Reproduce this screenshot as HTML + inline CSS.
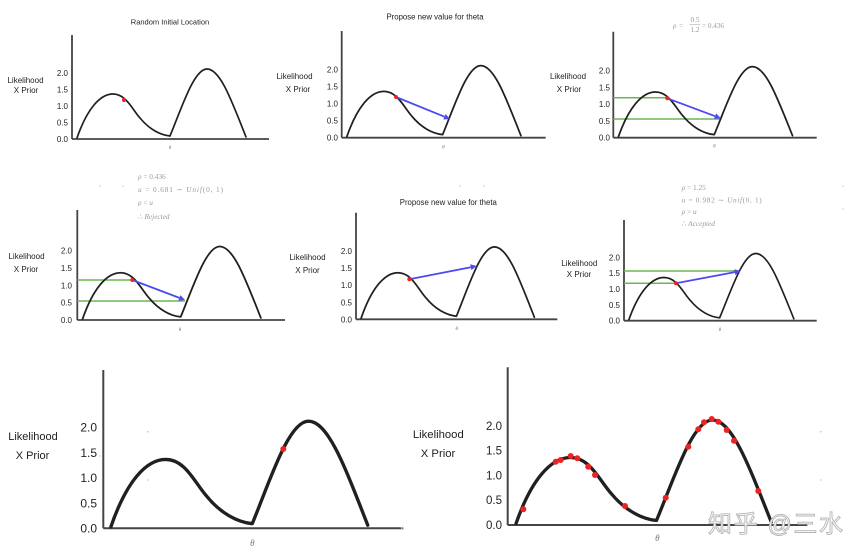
<!DOCTYPE html>
<html><head><meta charset="utf-8"><style>
html,body{margin:0;padding:0;background:#fff;}
svg{display:block;}
.c{fill:none;stroke:#202020;stroke-linejoin:round;stroke-linecap:round;}
.ax{stroke:#444;}
.t{font-family:"Liberation Sans",sans-serif;fill:#222;}
.f{font-family:"Liberation Serif",serif;fill:#999;}
.th{font-family:"Liberation Serif",serif;font-style:italic;fill:#777;}
</style></head><body>
<svg width="865" height="559" viewBox="0 0 865 559" xmlns="http://www.w3.org/2000/svg">
<defs>
<path id="cv" d="M5,-1 C15,-30 28,-45 41,-45 C54,-45 60,-30 68,-21 C77,-10 88,-4 98,-3 C110,-32 122,-70 135,-70 C148,-70 159,-40 174,-2"/>
</defs>
<rect width="865" height="559" fill="#fff"/>

<!-- ===== Panel 1 ===== -->
<text class="t" x="170" y="24.5" font-size="7.5" text-anchor="middle">Random Initial Location</text>
<g class="ax" stroke-width="1.8"><line x1="72" y1="35" x2="72" y2="139"/><line x1="72" y1="139" x2="269" y2="139"/></g>
<g transform="translate(72,139)"><use href="#cv" class="c" stroke-width="1.7"/></g>
<g class="t" font-size="8" text-anchor="end">
<text x="68" y="76">2.0</text><text x="68" y="92.5">1.5</text><text x="68" y="109">1.0</text><text x="68" y="125.5">0.5</text><text x="68" y="142">0.0</text></g>
<g class="t" font-size="8" text-anchor="middle"><text x="25.5" y="83">Likelihood</text><text x="26" y="93">X Prior</text></g>
<text class="th" x="170" y="149" font-size="5" text-anchor="middle">θ</text>
<circle cx="124" cy="100" r="2" fill="#e22"/>

<!-- ===== Panel 2 ===== -->
<text class="t" x="435" y="19.5" font-size="7.8" text-anchor="middle">Propose new value for theta</text>
<g class="ax" stroke-width="1.8"><line x1="341.7" y1="31" x2="341.7" y2="137.7"/><line x1="341.7" y1="137.7" x2="545.7" y2="137.7"/></g>
<g transform="translate(341.7,137.7) scale(1.03,1.03)"><use href="#cv" class="c" stroke-width="1.7" vector-effect="non-scaling-stroke"/></g>
<g class="t" font-size="8" text-anchor="end">
<text x="338" y="72.7">2.0</text><text x="338" y="89.7">1.5</text><text x="338" y="106.7">1.0</text><text x="338" y="123.7">0.5</text><text x="338" y="140.7">0.0</text></g>
<g class="t" font-size="8" text-anchor="middle"><text x="294.5" y="79">Likelihood</text><text x="298" y="92">X Prior</text></g>
<text class="th" x="443.3" y="148.5" font-size="5" text-anchor="middle">θ</text>
<line x1="396" y1="97" x2="444.4" y2="116.7" stroke="#4b4bf0" stroke-width="1.8"/>
<polygon points="450,119 443.3,119.5 445.6,114" fill="#4b4bf0"/>
<circle cx="396" cy="97" r="2" fill="#e22"/>

<!-- ===== Panel 3 ===== -->
<g class="f" font-size="7.2">
<text x="673" y="28" font-style="italic">ρ</text><text x="679" y="28">=</text>
<text x="690.5" y="22.2">0.5</text><line x1="689.5" y1="24.8" x2="700" y2="24.8" stroke="#999" stroke-width="0.5"/><text x="690.5" y="31.8">1.2</text>
<text x="702" y="28">= 0.436</text></g>
<g class="ax" stroke-width="1.8"><line x1="613.3" y1="31.7" x2="613.3" y2="137.7"/><line x1="613.3" y1="137.7" x2="816.7" y2="137.7"/></g>
<line x1="613.3" y1="97.7" x2="667" y2="97.7" stroke="#6db555" stroke-width="1.5"/>
<line x1="613.3" y1="119" x2="720" y2="119" stroke="#6db555" stroke-width="1.5"/>
<g transform="translate(613.3,137.7) scale(1.03,1.015)"><use href="#cv" class="c" stroke-width="1.7" vector-effect="non-scaling-stroke"/></g>
<g class="t" font-size="8" text-anchor="end">
<text x="610" y="73.7">2.0</text><text x="610" y="90.4">1.5</text><text x="610" y="107.2">1.0</text><text x="610" y="124">0.5</text><text x="610" y="140.7">0.0</text></g>
<g class="t" font-size="8" text-anchor="middle"><text x="568" y="79">Likelihood</text><text x="569" y="92">X Prior</text></g>
<text class="th" x="714.3" y="147.5" font-size="5" text-anchor="middle">θ</text>
<line x1="667.3" y1="98.3" x2="715.1" y2="116.2" stroke="#4b4bf0" stroke-width="1.8"/>
<polygon points="720.7,118.3 714,119 716.2,113.4" fill="#4b4bf0"/>
<circle cx="667.3" cy="98.3" r="2" fill="#e22"/>

<!-- ===== Panel 4 ===== -->
<g class="f" font-size="7.3">
<text x="138" y="179"><tspan font-style="italic">ρ</tspan> = 0.436</text>
<text x="138" y="192" textLength="85"><tspan font-style="italic">u</tspan> = 0.681  ∼  <tspan font-style="italic">Unif</tspan>(0, 1)</text>
<text x="138" y="205"><tspan font-style="italic">ρ</tspan> &lt; <tspan font-style="italic">u</tspan></text>
<text x="138" y="219">∴ <tspan font-style="italic">Rejected</tspan></text></g>
<g class="ax" stroke-width="1.8"><line x1="77.3" y1="210" x2="77.3" y2="320"/><line x1="77.3" y1="320" x2="285" y2="320"/></g>
<line x1="77.3" y1="280" x2="132" y2="280" stroke="#6db555" stroke-width="1.5"/>
<line x1="77.3" y1="301" x2="185" y2="301" stroke="#6db555" stroke-width="1.5"/>
<g transform="translate(77.3,320) scale(1.055,1.05)"><use href="#cv" class="c" stroke-width="1.7" vector-effect="non-scaling-stroke"/></g>
<g class="t" font-size="8" text-anchor="end">
<text x="72" y="253.7">2.0</text><text x="72" y="271">1.5</text><text x="72" y="288.3">1.0</text><text x="72" y="305.6">0.5</text><text x="72" y="323">0.0</text></g>
<g class="t" font-size="8" text-anchor="middle"><text x="26.5" y="259">Likelihood</text><text x="26" y="272">X Prior</text></g>
<text class="th" x="180" y="331" font-size="5" text-anchor="middle">θ</text>
<line x1="132.3" y1="280" x2="179.4" y2="297.9" stroke="#4b4bf0" stroke-width="1.8"/>
<polygon points="185,300 178.3,300.7 180.5,295.1" fill="#4b4bf0"/>
<circle cx="132.3" cy="280" r="2" fill="#e22"/>

<!-- ===== Panel 5 ===== -->
<text class="t" x="448.3" y="205.2" font-size="7.8" text-anchor="middle">Propose new value for theta</text>
<g class="ax" stroke-width="1.8"><line x1="356" y1="212.7" x2="356" y2="319.3"/><line x1="356" y1="319.3" x2="557.3" y2="319.3"/></g>
<g transform="translate(356,319.3) scale(1.025,1.035)"><use href="#cv" class="c" stroke-width="1.7" vector-effect="non-scaling-stroke"/></g>
<g class="t" font-size="8" text-anchor="end">
<text x="352" y="254">2.0</text><text x="352" y="271.1">1.5</text><text x="352" y="288.2">1.0</text><text x="352" y="305.3">0.5</text><text x="352" y="322.3">0.0</text></g>
<g class="t" font-size="8" text-anchor="middle"><text x="307.5" y="260">Likelihood</text><text x="307.5" y="273">X Prior</text></g>
<text class="th" x="456.7" y="330" font-size="5" text-anchor="middle">θ</text>
<line x1="409.3" y1="279.3" x2="470.8" y2="267.2" stroke="#4b4bf0" stroke-width="1.8"/>
<polygon points="476.7,266 471.4,270.1 470.2,264.3" fill="#4b4bf0"/>
<circle cx="409.3" cy="279.3" r="2" fill="#e22"/>

<!-- ===== Panel 6 ===== -->
<g class="f" font-size="7.3">
<text x="681.7" y="190"><tspan font-style="italic">ρ</tspan> = 1.25</text>
<text x="681.7" y="202.5" textLength="80"><tspan font-style="italic">u</tspan> = 0.982  ∼  <tspan font-style="italic">Unif</tspan>(0, 1)</text>
<text x="681.7" y="214"><tspan font-style="italic">ρ</tspan> &gt; <tspan font-style="italic">u</tspan></text>
<text x="681.7" y="226">∴ <tspan font-style="italic">Accepted</tspan></text></g>
<g class="ax" stroke-width="1.8"><line x1="624" y1="220" x2="624" y2="320.7"/><line x1="624" y1="320.7" x2="816.7" y2="320.7"/></g>
<line x1="624" y1="271" x2="740" y2="271" stroke="#6db555" stroke-width="1.5"/>
<line x1="624" y1="283.3" x2="676" y2="283.3" stroke="#6db555" stroke-width="1.5"/>
<g transform="translate(624,320.7) scale(0.976,0.96)"><use href="#cv" class="c" stroke-width="1.7" vector-effect="non-scaling-stroke"/></g>
<g class="t" font-size="8" text-anchor="end">
<text x="620" y="260.3">2.0</text><text x="620" y="276.2">1.5</text><text x="620" y="292">1.0</text><text x="620" y="307.9">0.5</text><text x="620" y="323.7">0.0</text></g>
<g class="t" font-size="8" text-anchor="middle"><text x="579.3" y="266">Likelihood</text><text x="579" y="277">X Prior</text></g>
<text class="th" x="720" y="331" font-size="5" text-anchor="middle">θ</text>
<line x1="676" y1="283.3" x2="734.8" y2="272.1" stroke="#4b4bf0" stroke-width="1.8"/>
<polygon points="740.7,271 735.4,275.1 734.2,269.2" fill="#4b4bf0"/>
<circle cx="676" cy="283.3" r="2" fill="#e22"/>

<!-- ===== Panel 7 ===== -->
<g class="ax" stroke-width="2"><line x1="103.3" y1="370" x2="103.3" y2="528.3"/><line x1="103.3" y1="528.3" x2="403.3" y2="528.3"/></g>
<g transform="translate(103.3,528.3) scale(1.52,1.53)"><use href="#cv" class="c" stroke-width="2.2" vector-effect="non-scaling-stroke"/></g>
<g class="t" font-size="12" text-anchor="end">
<text x="97" y="431.6">2.0</text><text x="97" y="456.8">1.5</text><text x="97" y="482">1.0</text><text x="97" y="507.3">0.5</text><text x="97" y="532.6">0.0</text></g>
<g class="t" font-size="11" text-anchor="middle"><text x="33" y="440">Likelihood</text><text x="32.5" y="459">X Prior</text></g>
<text class="th" x="252.3" y="546" font-size="9" text-anchor="middle">θ</text>
<circle cx="283.3" cy="449" r="3" fill="#e22"/>
<g fill="#ccc"><circle cx="147.7" cy="431.7" r="0.9"/><circle cx="147.7" cy="480" r="0.9"/><circle cx="100" cy="456" r="0.8"/></g>

<!-- ===== Panel 8 ===== -->
<g class="ax" stroke-width="2"><line x1="507.7" y1="367.3" x2="507.7" y2="525"/><line x1="507.7" y1="525" x2="807.3" y2="525"/></g>
<g transform="translate(508.5,525) scale(1.51,1.5)"><use href="#cv" class="c" stroke-width="2.2" vector-effect="non-scaling-stroke"/></g>
<g class="t" font-size="11.5" text-anchor="end">
<text x="502" y="429.8">2.0</text><text x="502" y="454.6">1.5</text><text x="502" y="479.4">1.0</text><text x="502" y="504.2">0.5</text><text x="502" y="529">0.0</text></g>
<g class="t" font-size="11.3" text-anchor="middle"><text x="438.3" y="438">Likelihood</text><text x="438" y="457">X Prior</text></g>
<text class="th" x="657.3" y="541" font-size="9" text-anchor="middle">θ</text>
<g fill="#e22">
<circle cx="523.3" cy="509.3" r="3"/><circle cx="555.7" cy="461.7" r="3"/><circle cx="560.7" cy="460" r="3"/>
<circle cx="570.7" cy="456" r="3"/><circle cx="577.3" cy="458.3" r="3"/><circle cx="588.3" cy="466.7" r="3"/>
<circle cx="595" cy="475" r="3"/><circle cx="625" cy="506" r="3"/><circle cx="665.7" cy="497.7" r="3"/>
<circle cx="688.3" cy="446.7" r="3"/><circle cx="698.3" cy="429.3" r="3"/><circle cx="704" cy="422.3" r="3"/>
<circle cx="711.7" cy="419" r="3"/><circle cx="718.3" cy="421.7" r="3"/><circle cx="726.7" cy="430" r="3"/>
<circle cx="734" cy="440.7" r="3"/><circle cx="758.3" cy="491" r="3"/></g>
<g fill="#ccc"><circle cx="820.7" cy="431.7" r="0.9"/><circle cx="820.7" cy="480" r="0.9"/><circle cx="401.7" cy="528" r="0.9"/></g>

<!-- specks -->
<g fill="#ccc"><circle cx="100" cy="186" r="0.8"/><circle cx="123" cy="186" r="0.8"/><circle cx="460" cy="186" r="0.8"/><circle cx="484" cy="186" r="0.8"/><circle cx="843" cy="186" r="0.8"/><circle cx="843" cy="209" r="0.8"/></g>

<!-- watermark -->
<text x="708" y="532" font-size="24" textLength="135" font-family="'Liberation Sans','Noto Sans CJK SC',sans-serif" fill="#fff" stroke="#b5b5b5" stroke-width="0.9">知乎 @三水</text>
</svg>
</body></html>
